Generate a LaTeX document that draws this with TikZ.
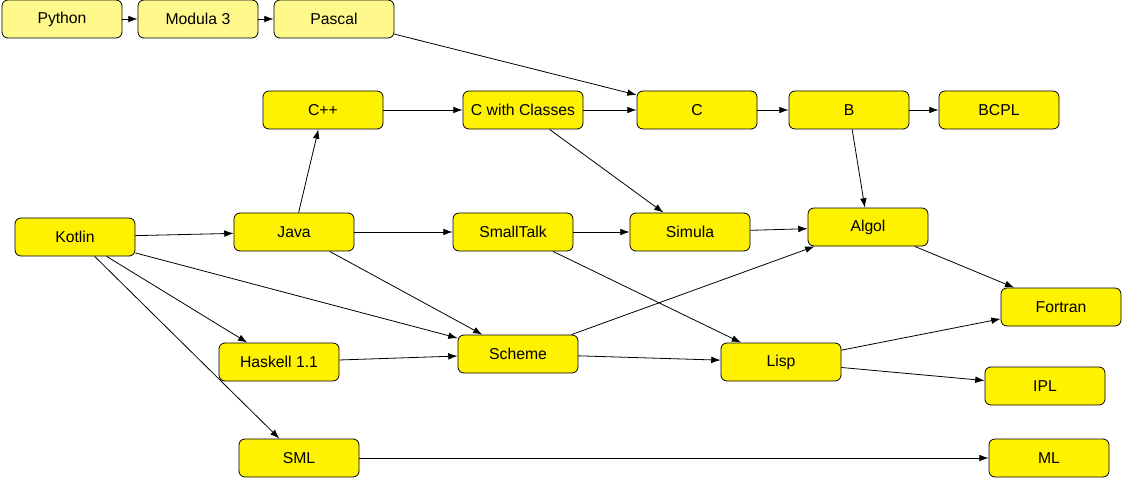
\documentclass[tikz,border=0pt]{standalone}
\usepackage{fontspec}
\setmainfont{Liberation Sans}
\usetikzlibrary{arrows.meta}

\begin{document}
\begin{tikzpicture}
  [x=0.75pt,y=-0.75pt,
   every node/.style={draw,rounded corners=4.5pt,fill=yellow,line width=0.6pt,
     minimum width=90pt,minimum height=28.5pt,inner sep=0pt,font=\fontsize{11.8}{13}\selectfont},
   pale/.style={fill=yellow!45}]
  \useasboundingbox (0,0) rectangle (1122,478);
  \node[pale] (python) at (62,19)  {Python};
  \node[pale] (modula) at (198,19)  {Modula 3};
  \node[pale] (pascal) at (334,19)  {Pascal};
  \node (cpp) at (323,110)  {C++};
  \node (cwc) at (523,110)  {C with Classes};
  \node (c) at (697,110)  {C};
  \node (b) at (849,110)  {B};
  \node (bcpl) at (999,110)  {BCPL};
  \node (kotlin) at (75,237)  {Kotlin};
  \node (java) at (294,232)  {Java};
  \node (smalltalk) at (513,232)  {SmallTalk};
  \node (simula) at (690,232)  {Simula};
  \node (algol) at (868,227)  {Algol};
  \node (fortran) at (1061,307)  {Fortran};
  \node (haskell) at (279,362)  {Haskell 1.1};
  \node (scheme) at (518,354)  {Scheme};
  \node (lisp) at (781,362)  {Lisp};
  \node (ipl) at (1045,386)  {IPL};
  \node (sml) at (299,458)  {SML};
  \node (ml) at (1049,458)  {ML};

  \foreach \from/\to in {python/modula,modula/pascal,pascal/c,cpp/cwc,cwc/c,c/b,b/bcpl,
    b/algol,cwc/simula,kotlin/java,java/cpp,java/smalltalk,smalltalk/simula,simula/algol,
    java/scheme,kotlin/scheme,kotlin/haskell,kotlin/sml,smalltalk/lisp,haskell/scheme,
    scheme/algol,scheme/lisp,algol/fortran,lisp/fortran,lisp/ipl,sml/ml}
    \draw[-{Latex[length=7pt,width=5pt]},line width=0.6pt] (\from) -- (\to);

\end{tikzpicture}
\end{document}
